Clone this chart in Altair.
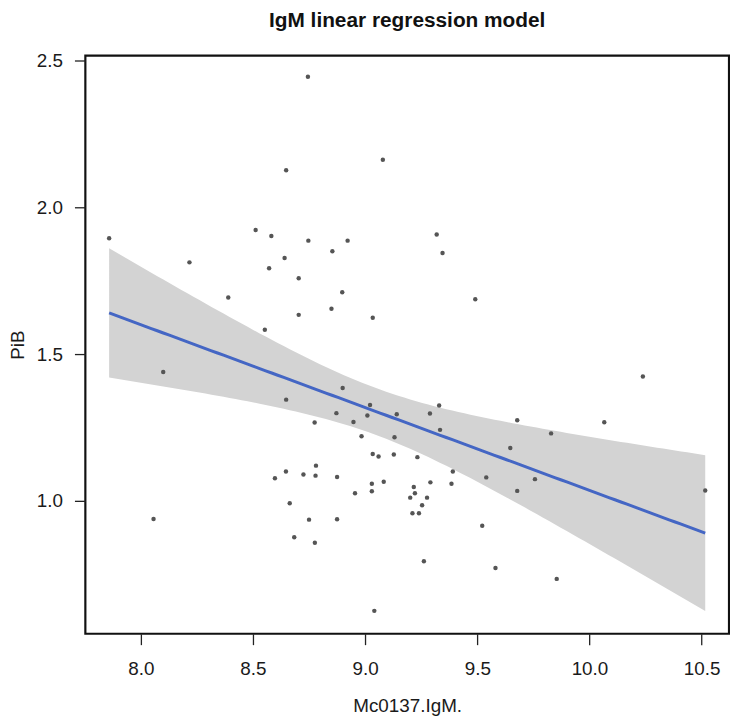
import numpy as np
import pandas as pd
import altair as alt

# Data
igm = [8.745, 9.079, 8.648, 8.512, 8.582, 7.859, 8.747, 8.922, 8.854, 8.217,
       8.641, 8.572, 8.704, 8.898, 8.390, 8.704, 8.850, 9.034, 8.553, 9.319,
       9.345, 9.491, 8.100, 8.648, 8.900, 8.872, 8.775, 8.948, 9.022, 9.010,
       9.141, 8.984, 9.131, 9.034, 9.060, 9.128, 8.781, 8.647, 8.598, 8.725,
       8.779, 8.875, 9.030, 9.083, 9.030, 8.955, 8.664, 8.057, 8.750, 8.875,
       8.684, 8.776, 9.041, 10.238, 9.289, 9.330, 9.334, 9.678, 9.829, 10.066,
       9.647, 9.233, 9.391, 9.385, 9.540, 9.757, 9.678, 10.516, 9.291, 9.217,
       9.222, 9.201, 9.276, 9.254, 9.211, 9.240, 9.522, 9.262, 9.581, 9.854]
pib = [2.446, 2.163, 2.127, 1.923, 1.903, 1.895, 1.887, 1.887, 1.851, 1.813,
       1.828, 1.793, 1.759, 1.711, 1.693, 1.634, 1.655, 1.624, 1.583, 1.908,
       1.845, 1.687, 1.439, 1.345, 1.385, 1.299, 1.267, 1.269, 1.327, 1.291,
       1.295, 1.220, 1.217, 1.160, 1.151, 1.158, 1.120, 1.100, 1.077, 1.090,
       1.086, 1.081, 1.058, 1.065, 1.033, 1.026, 0.992, 0.938, 0.936, 0.937,
       0.876, 0.857, 0.625, 1.424, 1.298, 1.325, 1.242, 1.275, 1.230, 1.268,
       1.180, 1.149, 1.100, 1.058, 1.080, 1.074, 1.034, 1.035, 1.063, 1.047,
       1.026, 1.011, 1.011, 0.985, 0.958, 0.958, 0.915, 0.794, 0.771, 0.734]

x_ticks = [8.0, 8.5, 9.0, 9.5, 10.0, 10.5]
y_ticks = [1.0, 1.5, 2.0, 2.5]
title_text = "IgM linear regression model"
x_title = "Mc0137.IgM."
y_title = "PiB"

# Linear model fit with 95% confidence band (like geom_smooth(method="lm"))
xa = np.array(igm)
ya = np.array(pib)
n = len(xa)
b1, b0 = np.polyfit(xa, ya, 1)
resid = ya - (b0 + b1 * xa)
s = np.sqrt(np.sum(resid ** 2) / (n - 2))
sxx = np.sum((xa - xa.mean()) ** 2)
t_crit = 1.990  # t quantile 0.975, df ~ 78
grid = np.linspace(xa.min(), xa.max(), 100)
fit = b0 + b1 * grid
se = s * np.sqrt(1.0 / n + (grid - xa.mean()) ** 2 / sxx)
band = pd.DataFrame({"x": grid, "fit": fit, "lo": fit - t_crit * se, "hi": fit + t_crit * se})
pts = pd.DataFrame({"x": igm, "y": pib})

xdom = [7.753, 10.622]
ydom = [0.547, 2.518]
FONT = "Liberation Sans"

xs = alt.Scale(domain=xdom, nice=False, zero=False)
ys = alt.Scale(domain=ydom, nice=False, zero=False)

xaxis = alt.Axis(values=x_ticks, format=".1f", title=x_title, grid=False, domain=False,
                 tickSize=11, tickWidth=1.3, tickColor="#222222", labelPadding=15,
                 labelFontSize=19, labelFont=FONT, labelColor="#1a1a1a",
                 titleFontSize=19, titleFont=FONT, titleFontWeight="normal", titleColor="#1a1a1a",
                 titleBaseline="alphabetic", titleY=78)
yaxis = alt.Axis(values=y_ticks, format=".1f", title=y_title, grid=False, domain=False,
                 tickSize=11, tickWidth=1.3, tickColor="#222222", labelPadding=12,
                 labelFontSize=19, labelFont=FONT, labelColor="#1a1a1a",
                 titleFontSize=19, titleFont=FONT, titleFontWeight="normal", titleColor="#1a1a1a",
                 titleBaseline="alphabetic", titleX=-62, titleAngle=-90)

area = alt.Chart(band).mark_area(color="#D3D3D3", opacity=1).encode(
    x=alt.X("x:Q", scale=xs, axis=xaxis),
    y=alt.Y("lo:Q", scale=ys, axis=yaxis),
    y2="hi:Q",
)
line = alt.Chart(band).mark_line(color="#4466C4", strokeWidth=3).encode(
    x=alt.X("x:Q", scale=xs),
    y=alt.Y("fit:Q", scale=ys),
)
points = alt.Chart(pts).mark_circle(color="#555555", size=20, opacity=1).encode(
    x=alt.X("x:Q", scale=xs),
    y=alt.Y("y:Q", scale=ys),
)

chart = alt.layer(area, line, points).properties(
    width=649,
    height=583,
    autosize=alt.AutoSizeParams(type="none"),
    padding={"left": 78, "top": 45, "right": 1, "bottom": 80},
    title=alt.TitleParams(text=title_text, fontSize=21, fontWeight="bold", font=FONT,
                          anchor="middle", frame="group", offset=21, color="#111111"),
).configure_view(stroke="#111111", strokeWidth=2.2)

chart.save("out.html", embed_options={"renderer": "svg", "actions": False})
